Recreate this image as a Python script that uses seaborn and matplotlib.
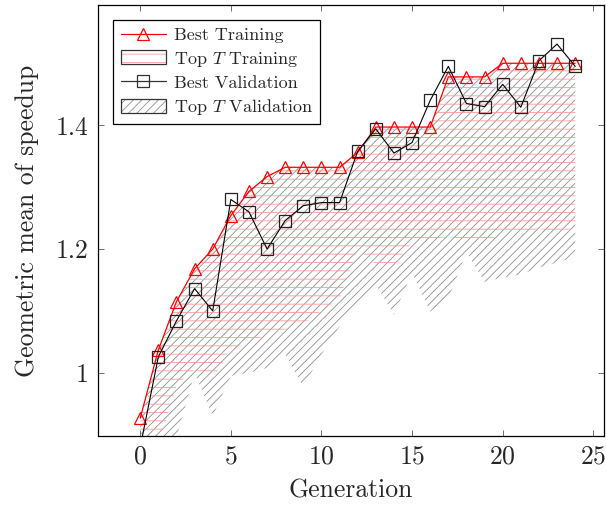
import matplotlib
matplotlib.use("Agg")
import matplotlib.pyplot as plt
import seaborn as sns
import pandas as pd
from matplotlib.patches import Patch
from matplotlib.lines import Line2D
from matplotlib.legend_handler import HandlerTuple

# values
generations = list(range(25))
best_training = [0.927, 1.037, 1.115, 1.168, 1.200, 1.254, 1.293, 1.317, 1.332, 1.332,
                 1.332, 1.332, 1.356, 1.397, 1.397, 1.397, 1.397, 1.478, 1.478, 1.478,
                 1.500, 1.500, 1.500, 1.500, 1.500]
best_validation = [0.880, 1.026, 1.084, 1.136, 1.100, 1.280, 1.260, 1.200, 1.246, 1.270,
                   1.275, 1.275, 1.358, 1.394, 1.355, 1.372, 1.440, 1.495, 1.435, 1.430,
                   1.466, 1.429, 1.504, 1.531, 1.495]
top_training_low = [0.86, 0.88, 0.98, 1.005, 0.99, 1.04, 1.048, 1.062, 1.07, 1.08,
                    1.10, 1.12, 1.20, 1.175, 1.175, 1.21, 1.215, 1.22, 1.215, 1.215,
                    1.222, 1.225, 1.233, 1.225, 1.235]
top_validation_low = [0.85, 0.87, 0.895, 1.0, 0.93, 0.995, 1.0, 1.008, 1.03, 0.977,
                      1.03, 1.075, 1.113, 1.143, 1.094, 1.162, 1.099, 1.12, 1.195, 1.147,
                      1.154, 1.159, 1.17, 1.178, 1.188]

df = pd.DataFrame({
    "Generation": generations,
    "best_training": best_training,
    "best_validation": best_validation,
    "train_low": top_training_low,
    "val_low": top_validation_low,
})

sns.set_theme(style="ticks")
plt.rcParams["font.family"] = ["cmr10"]
plt.rcParams["mathtext.fontset"] = "cm"
plt.rcParams["axes.formatter.use_mathtext"] = True
plt.rcParams["hatch.linewidth"] = 0.6
plt.rcParams["axes.unicode_minus"] = False

fig = plt.figure(figsize=(6.06, 5.07), dpi=100)
ax = fig.add_axes([0.162, 0.140, 0.835, 0.850])

red_hatch = "#ff9a9a"
gray_hatch = "#8f8f8f"

# bands (hatched, no fill)
ax.fill_between(df["Generation"], df["val_low"], df["best_training"],
                facecolor="none", edgecolor=gray_hatch, hatch="////", linewidth=0, zorder=1)
ax.fill_between(df["Generation"], df["train_low"], df["best_training"],
                facecolor="none", edgecolor=red_hatch, hatch="--", linewidth=0, zorder=1.5)

# best lines
sns.lineplot(data=df, x="Generation", y="best_training", ax=ax, color="red",
             marker="^", markersize=8.5, markerfacecolor="none", markeredgecolor="red",
             markeredgewidth=0.9, linewidth=0.9, zorder=3)
sns.lineplot(data=df, x="Generation", y="best_validation", ax=ax, color="black",
             marker="s", markersize=9, markerfacecolor="none", markeredgecolor="#222222",
             markeredgewidth=0.9, linewidth=0.8, zorder=4)

ax.set_xlim(-2.32, 25.6)
ax.set_ylim(0.898, 1.594)
ax.set_xticks([0, 5, 10, 15, 20, 25])
ax.set_yticks([1.0, 1.2, 1.4])
ax.set_yticklabels(["1", "1.2", "1.4"])
ax.tick_params(direction="in", top=True, right=True, length=4.5, width=0.6,
               color="#555555", labelsize=18.5, pad=6)
ax.tick_params(axis="y", pad=7)
for s in ax.spines.values():
    s.set_linewidth(0.9)
    s.set_color("black")

ax.set_xlabel("Generation", fontsize=18.5, labelpad=8)
ax.set_ylabel("Geometric mean of speedup", fontsize=18.5, labelpad=12)

# legend
h_bt = Line2D([], [], color="red", marker="^", markersize=8.5, markerfacecolor="none",
              markeredgewidth=0.9, linewidth=0.9)
h_tt = (Patch(facecolor="none", edgecolor=red_hatch, hatch="--", linewidth=0),
        Patch(facecolor="none", edgecolor="#333333", linewidth=0.9))
h_bv = Line2D([], [], color="#333333", marker="s", markersize=9, markerfacecolor="none",
              markeredgewidth=0.9, linewidth=0.9)
h_tv = (Patch(facecolor="none", edgecolor=gray_hatch, hatch="////", linewidth=0),
        Patch(facecolor="none", edgecolor="#333333", linewidth=0.9))
leg = ax.legend([h_bt, h_tt, h_bv, h_tv],
                ["Best Training", r"Top $T$ Training", "Best Validation", r"Top $T$ Validation"],
                handler_map={tuple: HandlerTuple(ndivide=1)},
                loc="upper left", bbox_to_anchor=(0.03, 0.966), borderaxespad=0,
                fontsize=13, handlelength=2.5, handleheight=0.85, handletextpad=0.45,
                labelspacing=0.34, borderpad=0.4, numpoints=1,
                frameon=True, fancybox=False, edgecolor="black", framealpha=1)
leg.get_frame().set_linewidth(0.9)

plt.savefig("out.png", dpi=100)
